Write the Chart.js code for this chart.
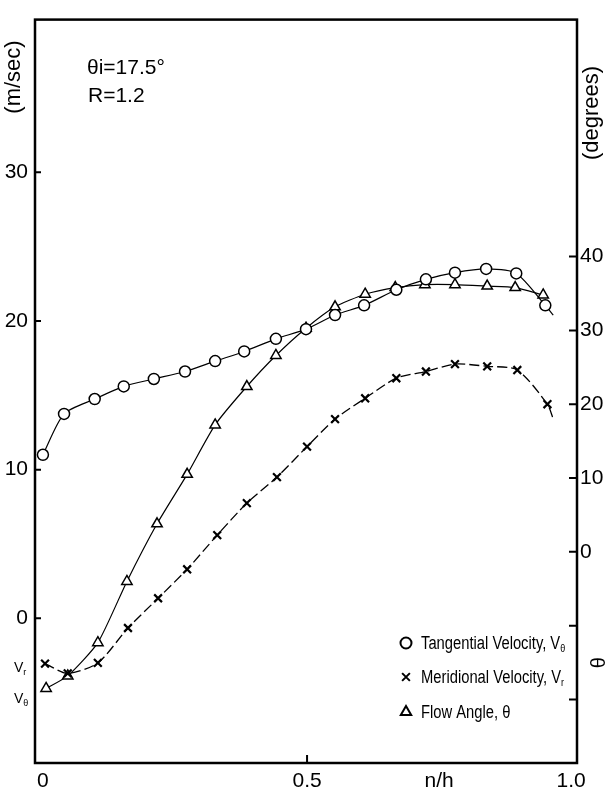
<!DOCTYPE html>
<html lang="en">
<head>
<meta charset="UTF-8">
<title>Velocity and flow angle, n/h</title>
<script src="https://cdn.jsdelivr.net/npm/chart.js"></script>
<style>
    body { margin: 0; padding: 0; background: #fff; }
    #wrap { width: 613px; height: 798px; }
</style>
</head>
<body>
<div id="wrap"><canvas id="chart" width="613" height="798"></canvas></div>
<script>
// values (n/h positions per series)
const xTangential = [0, 0.04, 0.098, 0.153, 0.21, 0.269, 0.326, 0.381, 0.441, 0.498, 0.553, 0.608, 0.669, 0.725, 0.78, 0.839, 0.896, 0.951, 0.966];
const tangentialVel = [11.0, 13.75, 14.75, 15.6, 16.1, 16.6, 17.3, 17.95, 18.8, 19.45, 20.4, 21.05, 22.1, 22.8, 23.25, 23.5, 23.2, 21.05, 20.4];

const xMeridional = [0.004, 0.047, 0.104, 0.161, 0.218, 0.273, 0.33, 0.386, 0.443, 0.5, 0.553, 0.61, 0.669, 0.725, 0.78, 0.841, 0.898, 0.955, 0.966];
const meridionalVel = [-3.05, -3.7, -3.0, -0.65, 1.35, 3.3, 5.6, 7.75, 9.5, 11.55, 13.4, 14.8, 16.15, 16.6, 17.1, 16.95, 16.7, 14.4, 13.4];

const xAngle = [0.006, 0.047, 0.104, 0.159, 0.216, 0.273, 0.326, 0.386, 0.441, 0.498, 0.553, 0.61, 0.667, 0.723, 0.78, 0.841, 0.894, 0.947];
const flowAngle = [-18.5, -16.8, -12.3, -4.0, 3.8, 10.5, 17.2, 22.4, 26.6, 30.3, 33.2, 34.9, 35.8, 36.2, 36.2, 36.0, 35.8, 34.8];

const xTicks = [0, 0.5, 0.75, 1.0];
const xTickLabels = ['0', '0.5', 'n/h', '1.0'];
const velTicks = [0, 10, 20, 30];
const angleTicks = [-20, -10, 0, 10, 20, 30, 40];
const angleTickLabels = ['', '', '0', '10', '20', '30', '40'];

const FONT = '"Liberation Sans", Arial, sans-serif';

function pts(xs, ys) {
    return xs.map((x, i) => ({ x: x, y: ys[i] }));
}
// last point of the two velocity curves is only the tail of the line
function radii(n, r) {
    const a = new Array(n).fill(r);
    a[n - 1] = 0;
    return a;
}

function textSub(ctx, base, sub, x, y, size) {
    ctx.font = size + 'px ' + FONT;
    ctx.fillText(base, x, y);
    const w = ctx.measureText(base).width;
    ctx.font = Math.round(size * 0.62) + 'px ' + FONT;
    ctx.fillText(sub, x + w, y + size * 0.18);
}

// frame, inward ticks, notes and the legend inside the plot
const paperPlugin = {
    id: 'paper',
    beforeDraw(chart) {
        const ctx = chart.ctx;
        ctx.save();
        ctx.fillStyle = '#fff';
        ctx.fillRect(0, 0, chart.width, chart.height);
        ctx.restore();
    },
    afterDraw(chart) {
        const ctx = chart.ctx;
        const a = chart.chartArea;
        const sx = chart.scales.x, sy = chart.scales.y, sy1 = chart.scales.y1;
        ctx.save();
        ctx.strokeStyle = '#000';
        ctx.fillStyle = '#000';
        ctx.lineWidth = 2.5;
        ctx.strokeRect(a.left, a.top, a.right - a.left, a.bottom - a.top);

        ctx.lineWidth = 2;
        ctx.beginPath();
        velTicks.forEach(v => {
            const y = sy.getPixelForValue(v);
            ctx.moveTo(a.left, y); ctx.lineTo(a.left + 6, y);
        });
        angleTicks.forEach(v => {
            const y = sy1.getPixelForValue(v);
            ctx.moveTo(a.right, y); ctx.lineTo(a.right - 8, y);
        });
        const xm = sx.getPixelForValue(0.5);
        ctx.moveTo(xm, a.bottom); ctx.lineTo(xm, a.bottom - 8);
        ctx.stroke();

        // notes
        ctx.textBaseline = 'alphabetic';
        ctx.textAlign = 'left';
        ctx.font = '21px ' + FONT;
        ctx.fillText('θi=17.5°', 87, 74);
        ctx.fillText('R=1.2', 88, 102);

        // axis titles
        ctx.font = '22px ' + FONT;
        ctx.textAlign = 'center';
        ctx.textBaseline = 'middle';
        ctx.save();
        ctx.translate(14, 77);
        ctx.rotate(-Math.PI / 2);
        ctx.fillText('(m/sec)', 0, 0);
        ctx.restore();
        ctx.save();
        ctx.translate(592, 113);
        ctx.rotate(-Math.PI / 2);
        ctx.fillText('(degrees)', 0, 0);
        ctx.restore();
        ctx.save();
        ctx.translate(599, sy1.getPixelForValue(-15));
        ctx.rotate(-Math.PI / 2);
        ctx.font = '20px ' + FONT;
        ctx.fillText('θ', 0, 0);
        ctx.restore();

        // wall labels at n/h = 0
        ctx.textAlign = 'left';
        ctx.textBaseline = 'alphabetic';
        textSub(ctx, 'V', 'r', 14, 672, 14);
        textSub(ctx, 'V', 'θ', 14, 703, 14);

        // legend
        const rows = [
            { y: 643, style: 'circle', r: 5.5, base: 'Tangential Velocity, V', sub: 'θ' },
            { y: 677, style: 'crossRot', r: 5.5, base: 'Meridional Velocity, V', sub: 'r' },
            { y: 712, style: 'triangle', r: 6, base: 'Flow Angle, θ', sub: '' }
        ];
        rows.forEach(row => {
            ctx.fillStyle = '#fff';
            ctx.strokeStyle = '#000';
            Chart.helpers.drawPoint(ctx, { pointStyle: row.style, radius: row.r, borderWidth: row.style === 'crossRot' ? 2.2 : 1.5, rotation: 0 }, 406, row.y);
            ctx.fillStyle = '#000';
            ctx.save();
            ctx.translate(421, row.y + 6);
            ctx.scale(0.82, 1);
            if (row.sub) {
                textSub(ctx, row.base, row.sub, 0, 0, 18);
            } else {
                ctx.font = '18px ' + FONT;
                ctx.fillText(row.base, 0, 0);
            }
            ctx.restore();
        });
        ctx.restore();
    }
};

const tickFont = { family: FONT, size: 21 };

new Chart(document.getElementById('chart'), {
    type: 'line',
    data: {
        datasets: [
            {
                label: 'Tangential Velocity',
                data: pts(xTangential, tangentialVel),
                yAxisID: 'y',
                borderColor: '#000',
                borderWidth: 1.2,
                tension: 0.25,
                pointStyle: 'circle',
                pointRadius: radii(xTangential.length, 5.5),
                pointBackgroundColor: '#fff',
                pointBorderColor: '#000',
                pointBorderWidth: 1.5
            },
            {
                label: 'Meridional Velocity',
                data: pts(xMeridional, meridionalVel),
                yAxisID: 'y',
                borderColor: '#000',
                borderWidth: 1.3,
                borderDash: [10, 4],
                tension: 0.25,
                pointStyle: 'crossRot',
                pointRadius: radii(xMeridional.length, 5.5),
                pointBorderColor: '#000',
                pointBorderWidth: 2.2
            },
            {
                label: 'Flow Angle',
                data: pts(xAngle, flowAngle),
                yAxisID: 'y1',
                borderColor: '#000',
                borderWidth: 1.2,
                tension: 0.2,
                pointStyle: 'triangle',
                pointRadius: 6,
                pointBackgroundColor: '#fff',
                pointBorderColor: '#000',
                pointBorderWidth: 1.5
            }
        ]
    },
    options: {
        responsive: false,
        animation: false,
        layout: { padding: { top: 13, left: 0, right: 0, bottom: 0 } },
        plugins: {
            legend: { display: false },
            tooltip: { enabled: false }
        },
        scales: {
            x: {
                type: 'linear',
                min: -0.015,
                max: 1.011,
                afterBuildTicks: s => { s.ticks = xTicks.map(v => ({ value: v })); },
                afterFit: s => { s.height = 35; },
                grid: { display: false, drawTicks: false },
                border: { display: false },
                ticks: {
                    autoSkip: false,
                    maxRotation: 0,
                    padding: 6,
                    color: '#000',
                    font: tickFont,
                    callback: (v, i) => xTickLabels[i]
                }
            },
            y: {
                type: 'linear',
                position: 'left',
                min: -9.73,
                max: 40.27,
                afterBuildTicks: s => { s.ticks = velTicks.map(v => ({ value: v })); },
                afterFit: s => { s.width = 35; },
                grid: { display: false, drawTicks: false },
                border: { display: false },
                ticks: { autoSkip: false, padding: 7, color: '#000', font: tickFont }
            },
            y1: {
                type: 'linear',
                position: 'right',
                min: -28.6,
                max: 72.1,
                afterBuildTicks: s => { s.ticks = angleTicks.map(v => ({ value: v })); },
                afterFit: s => { s.width = 36; },
                grid: { display: false, drawTicks: false },
                border: { display: false },
                ticks: {
                    autoSkip: false,
                    padding: 3,
                    color: '#000',
                    font: tickFont,
                    callback: (v, i) => angleTickLabels[i]
                }
            }
        }
    },
    plugins: [paperPlugin]
});
</script>
</body>
</html>
